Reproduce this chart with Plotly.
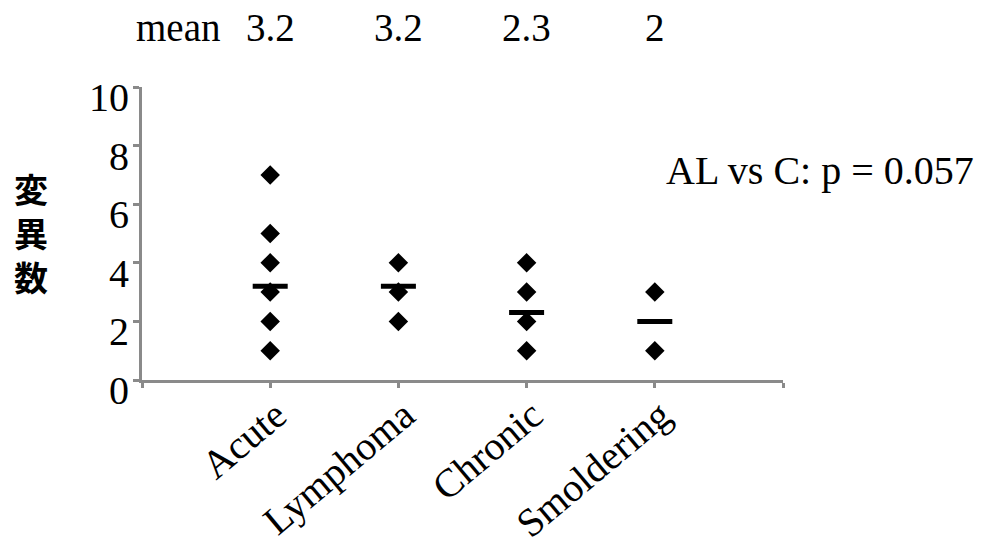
import plotly.graph_objects as go

categories = ["Acute", "Lymphoma", "Chronic", "Smoldering"]
positions = [1, 2, 3, 4]
acute = [7, 5, 4, 3, 2, 1]
lymphoma = [4, 3, 2]
chronic = [4, 3, 2, 1]
smoldering = [3, 1]
means = [3.2, 3.2, 2.3, 2]
mean_labels = ["3.2", "3.2", "2.3", "2"]
y_ticks = [0, 2, 4, 6, 8, 10]
p_text = "AL vs C: p = 0.057"
y_title = "変<br>異<br>数"

groups = [acute, lymphoma, chronic, smoldering]
px, py = [], []
for pos, vals in zip(positions, groups):
    px += [pos] * len(vals)
    py += vals

SERIF = "Liberation Serif, Times New Roman, serif"
W, H = 995, 547
L, R, T, B = 142, 212, 87, 167
pw, ph = W - L - R, H - T - B


def paper_x(pix):
    return (pix - L) / pw


def paper_y(pix):
    return (H - B - pix) / ph


fig = go.Figure()
fig.add_trace(go.Scatter(x=px, y=py, mode="markers",
                         marker=dict(symbol="diamond", size=15, color="black"),
                         showlegend=False, cliponaxis=False))
fig.add_trace(go.Scatter(x=positions, y=means, mode="markers",
                         marker=dict(symbol="line-ew", size=25,
                                     line=dict(width=5, color="black")),
                         showlegend=False, cliponaxis=False))

ann = []
ann.append(dict(x=paper_x(221), y=paper_y(27), xref="paper", yref="paper", text="mean",
                showarrow=False, xanchor="right", yanchor="middle", borderpad=0,
                font=dict(family=SERIF, size=39, color="black")))
for pos, lab in zip(positions, mean_labels):
    ann.append(dict(x=pos, y=paper_y(27), xref="x", yref="paper", text=lab,
                    showarrow=False, xanchor="center", yanchor="middle", borderpad=0,
                    font=dict(family=SERIF, size=39, color="black")))
ann.append(dict(x=paper_x(664), y=paper_y(170), xref="paper", yref="paper", text=p_text,
                showarrow=False, xanchor="left", yanchor="middle",
                font=dict(family=SERIF, size=40, color="black")))
ann.append(dict(x=paper_x(31), y=paper_y(232), xref="paper", yref="paper",
                text=y_title, showarrow=False, xanchor="center", yanchor="middle",
                font=dict(family="Noto Sans CJK JP", size=34, color="black",
                          weight="bold")))

fig.update_layout(
    width=W, height=H,
    margin=dict(l=L, r=R, t=T, b=B, autoexpand=False),
    plot_bgcolor="white", paper_bgcolor="white",
    annotations=ann,
    xaxis=dict(range=[0, 5], tickvals=[0, 1, 2, 3, 4, 5],
               ticktext=[""] + categories + [""],
               automargin=False,
               showgrid=False, zeroline=False, showline=True,
               linecolor="#8a8a8a", linewidth=3,
               ticks="outside", ticklen=5, tickwidth=3, tickcolor="#8a8a8a",
               tickangle=-40, ticklabelstandoff=-12, ticklabelshift=6,
               tickfont=dict(family=SERIF, size=40, color="black")),
    yaxis=dict(range=[0, 10], tickvals=y_ticks,
               automargin=False,
               showgrid=False, zeroline=False, showline=True,
               linecolor="#8a8a8a", linewidth=3,
               ticks="outside", ticklen=6, tickwidth=3, tickcolor="#8a8a8a",
               ticklabelshift=10, ticklabelstandoff=-4,
               tickfont=dict(family=SERIF, size=40, color="black")),
)
fig.write_html("out.html", config={"displayModeBar": False},
               post_script="document.body.style.margin='0';document.body.style.overflow='hidden';")
